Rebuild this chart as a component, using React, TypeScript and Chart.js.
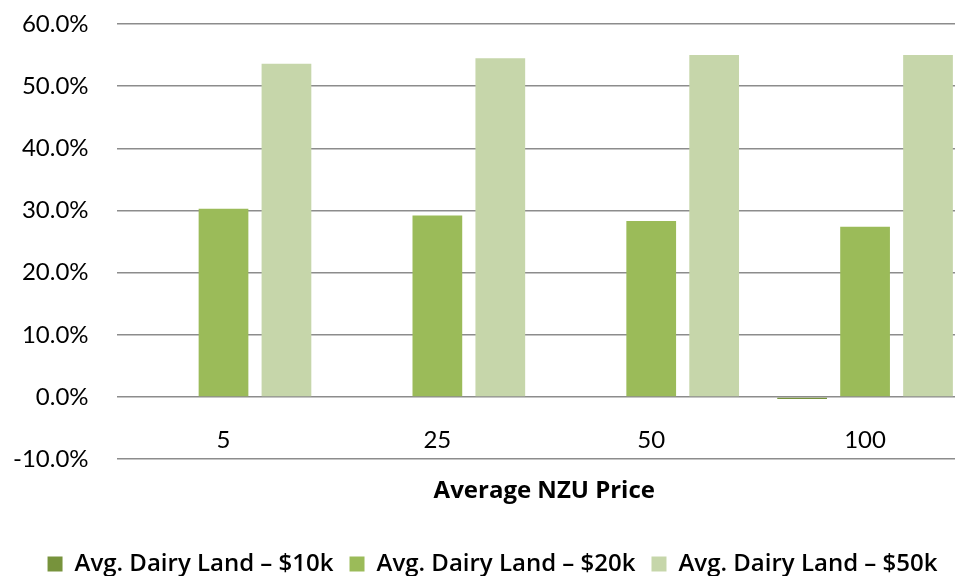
import React, { useEffect, useRef } from "react";
import { Chart, registerables } from "chart.js";

Chart.register(...registerables);

const categories = ["5", "25", "50", "100"];
const seriesNames = [
  "Avg. Dairy Land – $10k",
  "Avg. Dairy Land – $20k",
  "Avg. Dairy Land – $50k",
];
const dairy10k = [0, 0, 0, -0.3];
const dairy20k = [30.3, 29.2, 28.3, 27.4];
const dairy50k = [53.6, 54.5, 55.0, 55.0];
const yMin = -10;
const yMax = 60;
const yStep = 10;
const xTitle = "Average NZU Price";
const colors = ["#77933C", "#9BBB59", "#C6D6AA"];

const Y_TICK_PAD = 28;

export default function App() {
  const ref = useRef<HTMLCanvasElement | null>(null);

  useEffect(() => {
    document.body.style.overflow = "hidden";
    document.documentElement.style.overflow = "hidden";
    const ctx = ref.current;
    if (!ctx) return;
    const seriesData = [dairy10k, dairy20k, dairy50k];
    const chart = new Chart(ctx, {
      type: "bar",
      data: {
        labels: categories,
        datasets: seriesNames.map((name, i) => ({
          label: name,
          data: seriesData[i],
          backgroundColor: colors[i],
          borderWidth: 0,
          categoryPercentage: 0.883,
          barPercentage: 0.79,
        })),
      },
      options: {
        animation: false,
        responsive: true,
        maintainAspectRatio: false,
        layout: { padding: { left: 13, right: 8, top: 24, bottom: -10 } },
        scales: {
          x: {
            position: { y: 0 } as any,
            grid: { display: false },
            border: { display: false },
            afterFit: (s: any) => {
              s.paddingLeft = 0;
              s.paddingRight = 0;
              s.paddingTop = 0;
              s.paddingBottom = 0;
            },
            ticks: {
              padding: 21,
              color: "#000",
              font: { family: "Lato", size: 24 },
            },
          },
          y: {
            min: yMin,
            max: yMax,
            grid: { color: "#8c8c8c", lineWidth: 1.5, drawTicks: false },
            border: { display: false },
            afterFit: (s: any) => {
              s.width -= Y_TICK_PAD;
              s.paddingTop = 0;
              s.paddingBottom = 0;
            },
            ticks: {
              stepSize: yStep,
              padding: Y_TICK_PAD,
              color: "#000",
              font: { family: "Lato", size: 24 },
              callback: (v: any) => `${Number(v).toFixed(1)}%`,
            },
          },
        },
        plugins: {
          tooltip: { enabled: false },
          title: {
            display: true,
            text: xTitle,
            position: "bottom",
            weight: 500,
            fullSize: false,
            color: "#000",
            font: { family: "Open Sans", size: 24, weight: "bold" },
            padding: { top: 18, bottom: 30 },
          } as any,
          legend: {
            position: "bottom",
            labels: {
              color: "#000",
              font: { family: "Open Sans", size: 24, weight: "600" },
              boxWidth: 15,
              boxHeight: 15,
              padding: 16,
            },
          },
        },
      },
    });
    return () => chart.destroy();
  }, []);

  return (
    <div
      style={{
        position: "fixed",
        left: 0,
        top: 0,
        width: 980,
        height: 576,
        background: "#fff",
      }}
    >
      <canvas ref={ref} />
    </div>
  );
}
